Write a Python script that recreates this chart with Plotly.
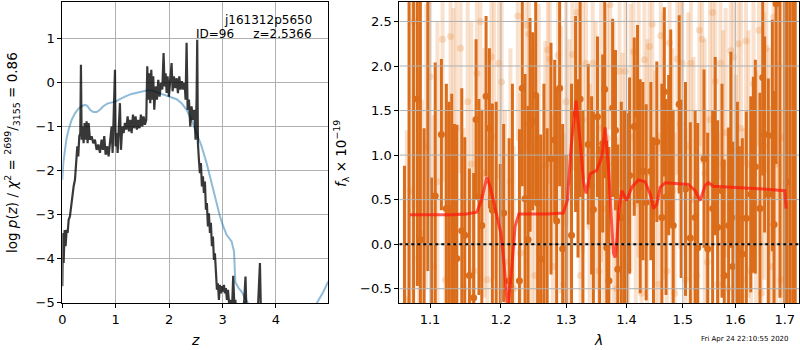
import plotly.graph_objects as go

# ---------------- left panel: redshift fit ----------------
z_pz = [0.000, 0.012, 0.025, 0.044, 0.062, 0.081, 0.100, 0.119, 0.143, 0.162, 0.187, 0.212, 0.237,
        0.262, 0.281, 0.299, 0.318, 0.337, 0.349, 0.362, 0.381, 0.399, 0.418, 0.437, 0.455, 0.474,
        0.493, 0.518, 0.549, 0.580, 0.611, 0.643, 0.674, 0.705, 0.736, 0.761, 0.786, 0.811, 0.842,
        0.867, 0.898, 0.923, 0.942, 0.967, 0.986, 0.998, 1.017, 1.036, 1.054, 1.079, 1.098, 1.123,
        1.148, 1.173, 1.198, 1.223, 1.248, 1.273, 1.298, 1.323, 1.347, 1.372, 1.397, 1.422, 1.447,
        1.472, 1.497, 1.522, 1.547, 1.572, 1.591, 1.609, 1.628, 1.647, 1.666, 1.684, 1.703, 1.722,
        1.747, 1.772, 1.797, 1.822, 1.847, 1.872, 1.896, 1.915, 1.934, 1.953, 1.971, 1.996, 2.021,
        2.046, 2.065, 2.090, 2.115, 2.140, 2.165, 2.190, 2.215, 2.240, 2.265, 2.290, 2.308, 2.327,
        2.346, 2.371, 2.396, 2.420, 2.445, 2.470, 2.495, 2.514, 2.526, 2.539, 2.558, 2.576, 2.595,
        2.614, 2.633, 2.651, 2.670, 2.689, 2.707, 2.726, 2.745, 2.764, 2.782, 2.801, 2.820, 2.839,
        2.857, 2.876, 2.895, 2.914, 2.932, 2.951, 2.970, 2.988, 3.007, 3.026, 3.044, 3.063, 3.082,
        3.101, 3.125, 3.150, 3.175, 3.200, 3.222, 3.240, 3.262, 3.288, 3.310, 3.340, 3.375, 3.406,
        3.430, 3.450, 3.482, 3.525, 3.562, 3.600, 3.637, 3.668, 3.700, 3.720, 3.760, 3.900, 4.300,
        4.980]
logp_pz = [-4.64, -3.43, -4.11, -3.36, -3.73, -3.36, -3.43, -3.13, -3.05, -2.83, -2.60, -2.37, -2.22,
           -1.77, -1.46, -1.69, -1.23, -1.16, 0.39, -1.31, -1.01, -1.39, -0.93, -1.31, -0.89, -1.39,
           -0.93, -1.31, -1.23, -1.39, -1.31, -1.54, -1.42, -1.61, -1.31, -1.54, -1.23, -1.65, -1.46,
           -1.69, -1.31, -1.01, -1.61, -0.63, 0.28, -1.46, -1.16, -1.61, -1.12, -0.48, -1.54, -1.01,
           -1.16, -0.93, -1.08, -0.78, -1.12, -0.86, -1.16, -0.74, -1.05, -0.78, -1.08, -0.86, -1.05,
           -0.74, -1.01, -0.78, -0.97, -0.86, 0.36, -0.40, 0.20, -0.48, 0.28, -0.40, 0.13, -0.63,
           -0.10, -0.40, 0.05, -0.33, -0.02, -0.17, 0.66, -0.10, 0.20, -0.25, 0.13, -0.33, 0.05,
           0.43, -0.21, 0.13, -0.14, 0.09, -0.25, 0.13, -0.17, 0.02, -0.17, -0.02, -0.40, 0.89,
           -0.63, -0.40, -1.01, -0.55, -0.86, -0.63, -1.31, -0.40, 0.96, -1.39, -1.77, -2.07, -1.84,
           -2.37, -2.14, -2.52, -2.26, -2.90, -2.75, -3.28, -2.98, -3.43, -3.20, -3.73, -3.51, -4.04,
           -3.89, -4.34, -4.72, -4.57, -4.95, -4.61, -4.80, -4.64, -4.76, -4.61, -4.80, -4.68, -4.95,
           -4.72, -5.06, -4.95, -5.25, -4.40, -5.10, -4.95, -5.30, -5.33, -5.35, -5.10, -5.33, -4.95,
           -4.42, -5.33, -5.55, -5.63, -5.33, -5.63, -5.33, -5.00, -4.11, -5.33, -5.70, -6.50, -7.50,
           -8.00]

z_chi = [0.000, 0.019, 0.050, 0.081, 0.125, 0.175, 0.237, 0.299, 0.362, 0.424, 0.468, 0.518, 0.580,
         0.643, 0.705, 0.767, 0.842, 0.923, 1.004, 1.079, 1.173, 1.298, 1.454, 1.578, 1.672, 1.765,
         1.890, 2.015, 2.140, 2.233, 2.327, 2.420, 2.514, 2.608, 2.701, 2.795, 2.888, 2.951, 3.013,
         3.076, 3.169, 3.215, 3.240, 3.300, 3.356, 3.450, 3.543, 3.668, 3.824, 4.136, 4.448, 4.635,
         4.760, 4.872, 4.980]
chi_scaled = [-2.22, -1.84, -1.54, -1.27, -1.05, -0.86, -0.71, -0.61, -0.55, -0.52, -0.54, -0.63, -0.68,
              -0.68, -0.63, -0.55, -0.49, -0.46, -0.44, -0.39, -0.33, -0.27, -0.23, -0.19, -0.19, -0.23,
              -0.27, -0.33, -0.39, -0.48, -0.63, -0.86, -1.16, -1.46, -1.84, -2.30, -2.75, -3.05, -3.28,
              -3.47, -3.62, -3.85, -4.55, -4.68, -4.76, -4.97, -5.17, -5.40, -5.55, -5.63, -5.52, -5.29,
              -5.02, -4.80, -4.53]

z_ticks = [0, 1, 2, 3, 4]
logp_ticks = [-5, -4, -3, -2, -1, 0, 1]
z_range = [0, 4.98]
logp_range = [-5.02, 1.83]

# ---------------- right panel: spectrum ----------------
wave_dark = [1.066, 1.072, 1.078, 1.083, 1.087, 1.092, 1.097, 1.102, 1.107, 1.1154, 1.1222, 1.126,
             1.1297, 1.1333, 1.1367, 1.1437, 1.1479, 1.1544, 1.1605, 1.1639, 1.168, 1.1721, 1.1783,
             1.1831, 1.1874, 1.193, 1.199, 1.204, 1.2121, 1.217, 1.2275, 1.2318, 1.236, 1.2406,
             1.2436, 1.2477, 1.2523, 1.2553, 1.2599, 1.265, 1.270, 1.276, 1.2818, 1.2849, 1.2896,
             1.2944, 1.300, 1.3086, 1.3151, 1.319, 1.3224, 1.327, 1.3357, 1.3412, 1.3441, 1.3509,
             1.3545, 1.3596, 1.363, 1.3665, 1.370, 1.3763, 1.3811, 1.385, 1.391, 1.3965, 1.4005,
             1.4052, 1.4133, 1.419, 1.4236, 1.4284, 1.4341, 1.4424, 1.447, 1.453, 1.462, 1.4664,
             1.4695, 1.4743, 1.478, 1.4825, 1.4934, 1.497, 1.505, 1.514, 1.523, 1.5278, 1.5396,
             1.5466, 1.556, 1.561, 1.5656, 1.574, 1.5783, 1.5868, 1.5912, 1.595, 1.604, 1.6079,
             1.6138, 1.6217, 1.6305, 1.6357, 1.6397, 1.649, 1.6546, 1.6585, 1.666, 1.6743, 1.6778,
             1.682, 1.690, 1.700, 1.705, 1.711, 1.717, 1.722]
flux_dark = [-0.90, -1.20, 3.10, 1.63, 0.05, -1.30, 3.00, -0.90, 0.54, 1.23, 0.40, -1.00,
             0.39, 0.15, -0.16, 0.15, 0.10, -0.35, -0.60, 1.40, 0.53, 0.21, 1.66,
             1.30, 0.38, -0.90, -0.80, 0.35, -0.41, -1.20, -0.41, 1.75, 0.51, 0.05,
             1.34, 1.38, 1.67, 0.46, -0.17, -1.10, -0.90, 0.96, 1.17, 0.26, 1.75,
             -0.05, -1.00, 0.10, 1.46, 0.85, 1.63, -0.80, 1.12, 0.66, 0.39, 1.43,
             -0.80, 1.13, 1.74, -0.04, -0.41, 1.53, 1.28, -0.28, 0.30, -0.90, 0.27,
             0.77, 1.32, 1.46, 0.65, 0.82, 0.47, 0.82, -0.80, 1.15, 0.30, 1.71,
             0.53, 1.00, 1.31, 0.21, 1.57, 0.62, 0.62, 0.07, 0.30, -0.04, 0.96,
             -0.05, 0.40, 1.10, 0.19, 0.60, -0.35, 0.21, 1.06, -0.25, 0.30, -0.10,
             -0.11, 0.29, 0.56, 0.78, 0.87, 0.40, 1.87, 1.23, 0.56, 1.22, 0.22,
             2.70, 3.20, -1.00, 0.70, 3.00, -1.00, 2.90]
err_dark = [1.78, 4.50, 3.90, 2.10, 2.90, 2.60, 3.30, 1.65, 1.50, 0.85, 1.40, 2.60,
            1.30, 1.20, 1.50, 1.60, 1.10, 1.20, 1.40, 0.90, 1.10, 1.30, 0.90,
            0.90, 1.20, 2.50, 1.70, 1.00, 1.60, 3.00, 1.70, 1.10, 1.40, 1.50,
            1.20, 1.00, 1.20, 1.20, 1.40, 2.90, 2.20, 1.30, 0.90, 1.50, 1.10,
            1.40, 2.00, 1.70, 1.10, 1.00, 1.10, 2.30, 0.90, 1.00, 1.10, 0.90,
            1.90, 1.00, 1.00, 1.20, 1.50, 1.00, 0.90, 1.40, 1.30, 2.40, 1.20,
            1.10, 1.00, 1.00, 1.20, 1.00, 1.10, 1.00, 2.00, 0.90, 1.50, 0.95,
            1.10, 0.90, 1.10, 1.30, 1.00, 1.00, 1.20, 1.30, 1.20, 1.40, 1.00,
            1.30, 1.10, 1.00, 1.20, 1.20, 1.30, 1.10, 1.10, 1.40, 1.30, 1.20,
            1.30, 1.20, 1.10, 1.10, 1.20, 1.30, 1.10, 1.10, 1.30, 1.30, 1.50,
            1.80, 3.80, 4.00, 3.80, 4.00, 4.20, 3.90]

wave_light = [1.069, 1.074, 1.078, 1.085, 1.089, 1.095, 1.100, 1.105, 1.110, 1.117, 1.121, 1.128,
              1.132, 1.136, 1.142, 1.146, 1.152, 1.157, 1.161, 1.165, 1.170, 1.176, 1.180, 1.186,
              1.190, 1.197, 1.201, 1.206, 1.214, 1.219, 1.225, 1.229, 1.238, 1.242, 1.246, 1.251,
              1.257, 1.262, 1.267, 1.271, 1.274, 1.279, 1.287, 1.292, 1.296, 1.300, 1.305, 1.310,
              1.317, 1.323, 1.327, 1.332, 1.338, 1.343, 1.348, 1.353, 1.357, 1.362, 1.367, 1.372,
              1.378, 1.383, 1.388, 1.393, 1.398, 1.403, 1.407, 1.412, 1.416, 1.421, 1.426, 1.431,
              1.436, 1.440, 1.445, 1.450, 1.456, 1.460, 1.465, 1.471, 1.476, 1.481, 1.485, 1.490,
              1.495, 1.499, 1.505, 1.510, 1.515, 1.520, 1.526, 1.531, 1.536, 1.541, 1.546, 1.551,
              1.556, 1.561, 1.566, 1.571, 1.576, 1.581, 1.586, 1.591, 1.596, 1.601, 1.606, 1.611,
              1.616, 1.621, 1.626, 1.631, 1.636, 1.641, 1.647, 1.652, 1.657, 1.662, 1.667, 1.672,
              1.677, 1.682, 1.687, 1.692, 1.697]
flux_light = [-0.62, 0.60, 2.50, -0.15, 0.12, 1.10, 1.88, -0.25, 0.70, 2.30, -0.40, 2.33,
              0.95, 1.30, 2.20, -0.50, 1.60, 0.90, -0.30, 1.92, 2.50, 0.80, -0.40, 2.10,
              1.20, 2.03, 1.82, -0.20, 0.70, -0.50, 2.56, -0.10, 2.46, 2.36, 0.60, -0.35,
              1.00, -0.60, 0.88, 2.18, 2.08, -0.25, 2.12, 0.95, -0.45, 1.60, 0.70, 2.13,
              2.60, -0.35, 1.40, 2.03, 0.20, 2.03, 1.00, -0.30, 1.30, 0.40, 1.19, 2.69,
              0.90, -0.50, 1.94, 0.55, 1.94, -0.30, 1.20, 2.16, 0.45, 1.35, -0.55, 2.07,
              0.80, 2.22, 2.47, 0.35, -0.45, 2.34, 1.10, -0.30, 2.26, 0.60, -0.55, 2.08,
              1.35, 2.03, -0.40, 1.10, 2.03, 0.50, -0.35, 2.40, 2.30, 0.80, -0.20, 1.40,
              2.60, 1.83, -0.45, 2.03, 0.90, 1.25, -0.50, 2.17, 2.10, 0.30, 2.25, 1.30,
              -0.40, 2.28, 0.90, -0.30, 1.80, 0.45, 2.40, -0.55, 1.10, 2.20, 0.60, -0.25,
              2.55, 0.90, 2.00, -0.40, 1.20]
err_light = [1.90, 2.40, 2.10, 1.80, 1.50, 1.60, 1.50, 1.70, 1.80, 1.60, 1.90, 1.40,
             1.70, 1.50, 1.40, 1.80, 1.50, 1.60, 1.70, 1.40, 1.50, 1.40, 1.60, 1.30,
             1.60, 1.30, 1.40, 1.70, 1.50, 1.60, 1.40, 1.80, 1.40, 1.50, 1.60, 1.50,
             1.70, 1.80, 1.40, 1.30, 1.40, 1.70, 1.30, 1.50, 1.70, 1.40, 1.60, 1.30,
             1.40, 1.70, 1.50, 1.30, 1.60, 1.30, 1.50, 1.70, 1.50, 1.60, 1.50, 1.40,
             1.60, 1.70, 1.30, 1.60, 1.40, 1.80, 1.50, 1.40, 1.60, 1.50, 1.80, 1.30,
             1.50, 1.40, 1.30, 1.60, 1.70, 1.30, 1.50, 1.70, 1.30, 1.60, 1.80, 1.30,
             1.40, 1.30, 1.70, 1.50, 1.30, 1.60, 1.70, 1.30, 1.40, 1.50, 1.70, 1.50,
             1.40, 1.30, 1.70, 1.30, 1.50, 1.40, 1.80, 1.30, 1.40, 1.60, 1.30, 1.50,
             1.70, 1.40, 1.50, 1.60, 1.40, 1.50, 1.30, 1.70, 1.50, 1.40, 1.60, 1.80,
             1.40, 1.60, 1.50, 1.90, 1.80]

wave_model = [1.0733, 1.100, 1.130, 1.150, 1.165, 1.172, 1.1793, 1.184, 1.1889, 1.195, 1.200, 1.205,
              1.210, 1.2162, 1.221, 1.2267, 1.250, 1.270, 1.2955, 1.3019, 1.308, 1.3159, 1.3224,
              1.328, 1.3322, 1.3388, 1.3498, 1.3581, 1.3636, 1.3692, 1.374, 1.3777, 1.3805,
              1.3835, 1.387, 1.392, 1.400, 1.4092, 1.4206, 1.4322, 1.442, 1.447, 1.453, 1.4591,
              1.4682, 1.5104, 1.5229, 1.5323, 1.5418, 1.548, 1.5575, 1.600, 1.6554, 1.700, 1.7027]
flux_model = [0.33, 0.33, 0.33, 0.34, 0.36, 0.50, 0.75, 0.65, 0.49, 0.30, 0.12, -0.25,
              -0.75, -0.25, 0.20, 0.34, 0.34, 0.34, 0.35, 0.49, 1.10, 1.61, 1.16,
              0.70, 0.57, 0.79, 0.83, 0.98, 1.31, 0.87, 0.30, -0.10, -0.15,
              0.05, 0.40, 0.60, 0.49, 0.64, 0.72, 0.70, 0.55, 0.40, 0.45, 0.64,
              0.69, 0.67, 0.60, 0.49, 0.66, 0.69, 0.65, 0.64, 0.62, 0.60, 0.40]

lam_ticks = [1.1, 1.2, 1.3, 1.4, 1.5, 1.6, 1.7]
lam_ticktext = ["1.1", "1.2", "1.3", "1.4", "1.5", "1.6", "1.7"]
flux_ticks = [-0.5, 0.0, 0.5, 1.0, 1.5, 2.0, 2.5]
loglam_range = [0.0250, 0.2382]
flux_range = [-0.66, 2.724]

# ---------------- styling ----------------
FONT = "DejaVu Sans"
GRID = "#b0b0b0"
DARK = "rgb(218,108,26)"
LIGHT = "rgba(232,128,48,0.24)"

fig = go.Figure()

# left panel
fig.add_trace(go.Scatter(x=z_chi, y=chi_scaled, mode="lines",
                         line=dict(color="rgba(31,119,180,0.5)", width=2),
                         xaxis="x", yaxis="y", hoverinfo="skip"))
fig.add_trace(go.Scatter(x=z_pz, y=logp_pz, mode="lines",
                         line=dict(color="rgba(0,0,0,0.78)", width=2.2),
                         xaxis="x", yaxis="y", hoverinfo="skip"))

# right panel
fig.add_trace(go.Scatter(x=wave_light, y=flux_light, mode="markers",
                         marker=dict(size=7, color=LIGHT, line=dict(width=0)),
                         error_y=dict(type="data", array=err_light, thickness=4, width=0, color=LIGHT),
                         xaxis="x2", yaxis="y2", hoverinfo="skip"))
fig.add_trace(go.Scatter(x=wave_dark, y=flux_dark, mode="markers",
                         marker=dict(size=7, color=DARK, line=dict(width=0)),
                         error_y=dict(type="data", array=err_dark, thickness=3, width=0, color=DARK),
                         xaxis="x2", yaxis="y2", hoverinfo="skip"))

# grid lines drawn over the spectrum (as in the reference)
lam_lo, lam_hi = 10 ** loglam_range[0], 10 ** loglam_range[1]
gx, gy = [], []
for t in lam_ticks:
    gx += [t, t, None]
    gy += [flux_range[0], flux_range[1], None]
for t in flux_ticks:
    gx += [lam_lo, lam_hi, None]
    gy += [t, t, None]
fig.add_trace(go.Scatter(x=gx, y=gy, mode="lines", line=dict(color=GRID, width=1),
                         xaxis="x2", yaxis="y2", hoverinfo="skip", connectgaps=False))

fig.add_trace(go.Scatter(x=wave_model, y=flux_model, mode="lines",
                         line=dict(color="rgba(255,20,10,0.7)", width=3),
                         xaxis="x2", yaxis="y2", hoverinfo="skip"))
fig.add_trace(go.Scatter(x=[lam_lo, lam_hi], y=[0, 0], mode="lines",
                         line=dict(color="black", width=2, dash="dot"),
                         xaxis="x2", yaxis="y2", hoverinfo="skip"))

ydom = [1 - 303 / 350, 1 - 1.5 / 350]
axis_common = dict(showline=True, linecolor="black", linewidth=1, mirror=True, automargin=False,
                   ticks="outside", ticklen=4, tickcolor="black", tickwidth=1,
                   zeroline=False, tickfont=dict(family=FONT, size=13, color="black"))

fig.update_layout(
    width=800, height=350,
    margin=dict(l=0, r=0, t=0, b=0, autoexpand=False),
    paper_bgcolor="white", plot_bgcolor="white",
    showlegend=False,
    font=dict(family=FONT, color="black"),
    xaxis=dict(domain=[62.3 / 800, 328.3 / 800], range=z_range, anchor="y",
               tickmode="array", tickvals=z_ticks, showgrid=True, gridcolor=GRID, gridwidth=1,
               **axis_common),
    yaxis=dict(domain=ydom, range=logp_range, anchor="x",
               tickmode="array", tickvals=logp_ticks, showgrid=True, gridcolor=GRID, gridwidth=1,
               **axis_common),
    xaxis2=dict(domain=[399.3 / 800, 799.3 / 800], type="log", range=loglam_range, anchor="y2",
                tickmode="array", tickvals=lam_ticks, ticktext=lam_ticktext, showgrid=False,
                **axis_common),
    yaxis2=dict(domain=ydom, range=flux_range, anchor="x2",
                tickmode="array", tickvals=flux_ticks, tickformat=".1f", showgrid=False,
                **axis_common),
)

ann = [
    dict(text="j161312p5650", x=314 / 800, y=1 - 20 / 350, xanchor="right", yanchor="middle",
         font=dict(size=12)),
    dict(text="ID=96\u00a0\u00a0\u00a0\u00a0\u00a0z=2.5366", x=314 / 800, y=1 - 34 / 350,
         xanchor="right", yanchor="middle", font=dict(size=12)),
    dict(text="<i>z</i>", x=195 / 800, y=1 - 340 / 350, xanchor="center", yanchor="middle",
         font=dict(size=14)),
    dict(text="<i>λ</i>", x=598 / 800, y=1 - 340 / 350, xanchor="center", yanchor="middle",
         font=dict(size=14)),
    dict(text="log <i>p</i>(<i>z</i>) / <i>χ</i><sup>2</sup> = <sup>2699</sup>/<sub>3155</sub> = 0.86",
         x=12 / 800, y=1 - 153 / 350, xanchor="center", yanchor="middle", textangle=-90,
         font=dict(size=13.5)),
    dict(text="<i>f</i><sub>λ</sub> × 10<sup>−19</sup>", x=341 / 800, y=1 - 154 / 350,
         xanchor="center", yanchor="middle", textangle=-90, font=dict(size=13.5)),
    dict(text="Fri Apr 24 22:10:55 2020", x=745 / 800, y=1 - 339 / 350, xanchor="center",
         yanchor="middle", font=dict(size=7)),
]
for a in ann:
    a.update(xref="paper", yref="paper", showarrow=False)
fig.update_layout(annotations=ann)

# remove the default page margin so the 800x350 figure fills the window exactly
fig.write_html("out.html", config={"displayModeBar": False},
               post_script="document.body.style.margin='0';document.body.style.padding='0';")
